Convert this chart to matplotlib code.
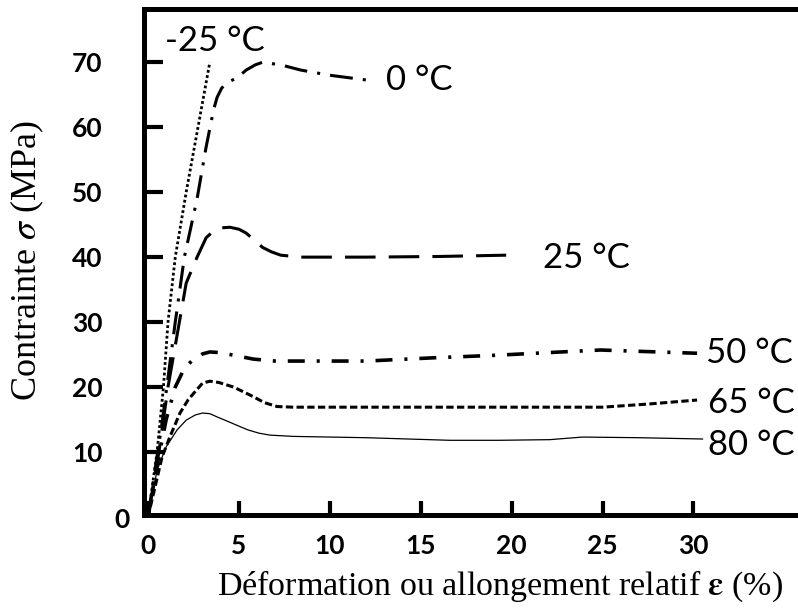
import matplotlib
matplotlib.use("Agg")
import matplotlib.pyplot as plt

plt.rcParams["mathtext.fontset"] = "stix"

# courbes contrainte-deformation
x_m25 = [0, 0.5, 0.85, 1.1, 1.5, 2.1, 2.75, 3.4]
y_m25 = [0, 10, 20, 30, 40, 50, 60, 70]

x_0 = [0, 0.8, 1.5, 2.0, 2.7, 3.2, 3.6, 3.8, 4.05, 4.3, 4.9, 5.4, 5.9, 6.3, 7.3, 8.4, 10, 12.2]
y_0 = [0, 15, 30, 40, 49, 57, 62.6, 64.6, 66, 66.8, 67.6, 68.8, 69.6, 70, 69.6, 68.8, 68, 67.2]

x_25 = [0, 0.6, 1.1, 1.6, 2.1, 2.7, 3.2, 3.6, 4.0, 4.5, 5.0, 5.4, 6.3, 6.8, 7.3, 8.4, 12, 16, 19.7]
y_25 = [0, 10, 20, 28, 36, 40, 43, 44, 44.5, 44.6, 44.3, 43.7, 41.5, 40.8, 40.3, 40, 40, 40.1, 40.3]

x_50 = [0, 0.5, 1.0, 1.5, 2.0, 2.4, 2.7, 3.0, 3.4, 4.0, 4.7, 5.8, 7.0, 8.4, 12, 15.7, 19.2, 22, 24.9, 27, 30.2]
y_50 = [0, 8, 15, 20, 22.9, 24.0, 24.6, 25.1, 25.4, 25.3, 24.9, 24.3, 24.0, 24.0, 24.0, 24.5, 24.9, 25.3, 25.7, 25.5, 25.2]

x_65 = [0, 0.77, 1.2, 1.76, 2.2, 2.5, 3.0, 3.4, 3.9, 4.7, 5.3, 5.8, 6.4, 7.1, 8, 12, 20, 25, 27.6, 30.2]
y_65 = [0, 9.2, 12.3, 16, 18, 19, 20.6, 20.9, 20.7, 20, 19.2, 18.5, 17.6, 17.0, 16.9, 16.9, 16.9, 16.9, 17.4, 18.0]

x_80 = [0, 0.5, 1.0, 1.6, 2.1, 2.6, 3.0, 3.4, 3.8, 4.4, 4.9, 5.5, 6.1, 6.7, 8, 12, 16.6, 19.3, 22.1, 23.9, 27, 30.5]
y_80 = [0, 7.2, 10.8, 13.4, 14.9, 15.7, 16.0, 15.9, 15.4, 14.7, 14.1, 13.4, 12.9, 12.6, 12.4, 12.2, 11.8, 11.8, 11.9, 12.3, 12.2, 12.0]

noms = ["-25 °C", "0 °C", "25 °C", "50 °C", "65 °C", "80 °C"]
pos_noms = [(0.93, 71.8), (13.1, 65.7), (21.7, 38.3), (30.7, 23.7), (30.8, 16.0), (30.8, 9.5)]

xticks = [0, 5, 10, 15, 20, 25, 30]
yticks = [10, 20, 30, 40, 50, 60, 70]

fig = plt.figure(figsize=(7.98, 6.09), dpi=100)
ax = fig.add_axes([144/798, 94/609, 1 - 144/798, 506/609])

ax.plot(x_m25, y_m25, color="black", lw=2.0, linestyle=(0, (1, 0.9)))
ax.plot(x_0, y_0, color="black", lw=2.2, linestyle=(0, (7.5, 3.3, 1, 3.3)))
ax.plot(x_25, y_25, color="black", lw=2.2, linestyle=(0, (10, 4.3)))
ax.plot(x_50, y_50, color="black", lw=2.6, linestyle=(0, (4.7, 3.3, 0.85, 3.3)))
ax.plot(x_65, y_65, color="black", lw=2.2, linestyle=(0, (2.4, 1.1)))
ax.plot(x_80, y_80, color="black", lw=0.9)

for t, (px, py) in zip(noms, pos_noms):
    ax.text(px, py, t, fontsize=25, family="Lato", ha="left", va="baseline")

ax.set_xlim(-0.22, 35.75)
ax.set_ylim(0.3, 78.2)

for s in ["left", "bottom", "top"]:
    ax.spines[s].set_linewidth(3.6)
ax.spines["right"].set_visible(False)

ax.set_xticks(xticks)
ax.set_yticks(yticks)
ax.tick_params(axis="y", direction="in", length=14, width=3, pad=30, labelsize=19)
ax.tick_params(axis="x", direction="in", length=10, width=3, pad=14, labelsize=19)
for lab in ax.get_xticklabels() + ax.get_yticklabels():
    lab.set_family("Lato")
    lab.set_fontweight("bold")

ax.text(-1.43, -0.4, "0", fontsize=19, family="Lato", fontweight="bold",
        ha="center", va="center", clip_on=False)

fig.text(27/798, 1 - 260/609, "Contrainte $\\sigma$ (MPa)", rotation=90, ha="center", va="center",
         fontsize=26, family="Liberation Serif")
fig.text(500/798, 1 - 595/609, "Déformation ou allongement relatif $\\mathbf{\\varepsilon}$ (%)", ha="center",
         va="baseline", fontsize=24.5, family="Liberation Serif")

fig.savefig("out.png", dpi=100)
